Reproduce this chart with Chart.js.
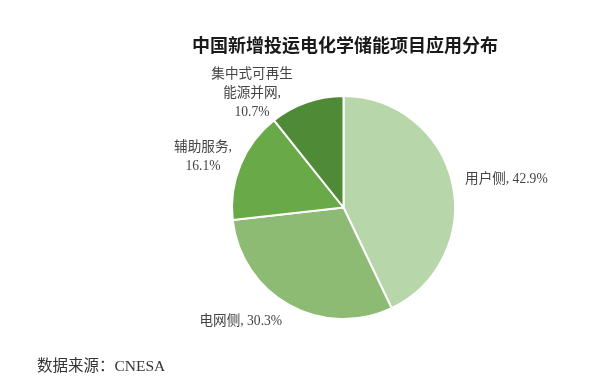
<!DOCTYPE html>
<html>
<head>
<meta charset="utf-8">
<script src="https://cdn.jsdelivr.net/npm/chart.js@4.4.0/dist/chart.umd.min.js"></script>
<style>
  html, body { margin: 0; padding: 0; background: #fff; }
  .wrap { position: relative; width: 600px; height: 391px; }
</style>
</head>
<body>
<div class="wrap"><canvas id="pieChart" width="600" height="391"></canvas></div>
<script>
// data
const chartTitle = '中国新增投运电化学储能项目应用分布';
const sourceNote = '数据来源：CNESA';
const categories = ['用户侧', '电网侧', '辅助服务', '集中式可再生能源并网'];
const shares = [42.9, 30.3, 16.1, 10.7];
// how each label text is broken into lines
const labelLines = [
  ['用户侧, 42.9%'],
  ['电网侧, 30.3%'],
  ['辅助服务,', '16.1%'],
  ['集中式可再生', '能源并网,', '10.7%']
];

const sliceColors = ['#b7d6aa', '#8dbb74', '#6aa948', '#4f8a37'];
// label anchors, in units of the pie radius from its centre
const labelAnchor = [
  { dx: 1.09, dy: -0.25, align: 'left' },
  { dx: -0.55, dy: 1.02, align: 'right' },
  { dx: -1.26, dy: -0.45, align: 'center' },
  { dx: -0.82, dy: -1.02, align: 'center' }
];

const textPlugin = {
  id: 'pieText',
  afterDraw(chart) {
    const ctx = chart.ctx;
    const meta = chart.getDatasetMeta(0);
    const arc = meta.data[0];
    const cx = arc.x, cy = arc.y, r = arc.outerRadius;
    ctx.save();
    ctx.fillStyle = '#1a1a1a';
    ctx.font = 'bold 18px "Noto Sans CJK SC", sans-serif';
    ctx.textAlign = 'center';
    ctx.textBaseline = 'middle';
    ctx.fillText(chartTitle, 345, 45);

    ctx.fillStyle = '#444';
    ctx.font = '13.6px "Liberation Serif", "Noto Sans CJK SC", serif';
    const lh = 19;
    labelLines.forEach((lines, i) => {
      const a = labelAnchor[i];
      const x = cx + a.dx * r;
      const y0 = cy + a.dy * r - (lines.length - 1) * lh / 2;
      ctx.textAlign = a.align;
      lines.forEach((t, j) => ctx.fillText(t, x, y0 + j * lh));
    });

    ctx.fillStyle = '#333';
    ctx.font = '15.5px "Liberation Serif", "Noto Sans CJK SC", serif';
    ctx.textAlign = 'left';
    ctx.fillText(sourceNote, 37, 367);
    ctx.restore();
  }
};

new Chart(document.getElementById('pieChart'), {
  type: 'pie',
  data: {
    labels: categories,
    datasets: [{
      data: shares,
      backgroundColor: sliceColors,
      borderColor: '#ffffff',
      borderWidth: 2
    }]
  },
  options: {
    responsive: false,
    animation: false,
    layout: { padding: { left: 231, right: 144, top: 95, bottom: 71 } },
    plugins: {
      legend: { display: false },
      tooltip: { enabled: false },
      title: { display: false }
    }
  },
  plugins: [textPlugin]
});
</script>
</body>
</html>
